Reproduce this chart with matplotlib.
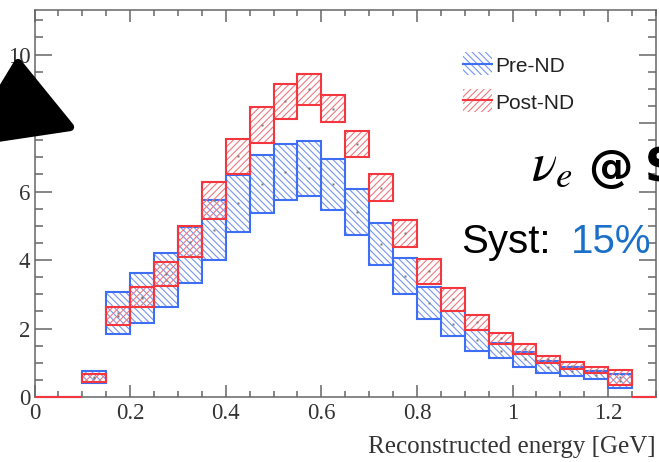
import matplotlib
matplotlib.use("Agg")
import matplotlib.pyplot as plt
import numpy as np
from matplotlib.patches import Polygon, Rectangle
from matplotlib.lines import Line2D
from matplotlib.ticker import MultipleLocator

# ---------------- data ----------------
bin_left = [0.00, 0.05, 0.10, 0.15, 0.20, 0.25, 0.30, 0.35, 0.40, 0.45, 0.50, 0.55, 0.60,
            0.65, 0.70, 0.75, 0.80, 0.85, 0.90, 0.95, 1.00, 1.05, 1.10, 1.15, 1.20, 1.25]
bin_width = 0.05

pre_lo = [0, 0, 0.42, 1.84, 2.15, 2.62, 3.32, 4.01, 4.83, 5.36, 5.74, 5.88, 5.46,
          4.74, 3.86, 3.01, 2.28, 1.78, 1.35, 1.13, 0.89, 0.71, 0.62, 0.53, 0.27, 0]
pre_hi = [0, 0, 0.77, 3.06, 3.62, 4.20, 4.95, 5.76, 6.49, 7.06, 7.40, 7.48, 6.95,
          6.07, 5.08, 4.05, 3.20, 2.51, 1.96, 1.57, 1.31, 1.06, 0.87, 0.76, 0.67, 0]
post_lo = [0, 0, 0.43, 2.10, 2.64, 3.25, 4.10, 5.20, 6.52, 7.42, 8.12, 8.54, 8.03,
           7.00, 5.71, 4.38, 3.30, 2.52, 1.96, 1.54, 1.26, 1.00, 0.81, 0.69, 0.35, 0]
post_hi = [0, 0, 0.66, 2.62, 3.21, 3.93, 4.98, 6.28, 7.54, 8.47, 9.15, 9.42, 8.81,
           7.78, 6.51, 5.18, 4.04, 3.18, 2.40, 1.88, 1.54, 1.20, 1.01, 0.89, 0.79, 0]

labels = ["Pre-ND", "Post-ND"]
xlabel = "Reconstructed energy [GeV]"
x_ticks = [0, 0.2, 0.4, 0.6, 0.8, 1.0, 1.2]
x_ticklabels = ["0", "0.2", "0.4", "0.6", "0.8", "1", "1.2"]
y_ticks = [0, 2, 4, 6, 8, 10]
y_ticklabels = ["0", "2", "4", "6", "8", "10"]

# ---------------- style ----------------
W, H = 659, 462
DPI = 100
plt.rcParams["hatch.linewidth"] = 0.8
plt.rcParams["mathtext.fontset"] = "stix"

blue_edge = "#3d6ef4"
blue_hatch = "#7796f2"
red_edge = "#f4363e"
red_hatch = "#f27a80"
axis_gray = "#666666"
label_gray = "#333333"

fig = plt.figure(figsize=(W / DPI, H / DPI), dpi=DPI)
ax = fig.add_axes([34.5 / W, 1 - 397 / H, (656 - 34.5) / W, (397 - 10) / H])


def px(x, y):
    return x / W, 1 - y / H


def draw_band(lo, hi, edge, hatchc, hatch, z):
    lo = np.asarray(lo, float)
    hi = np.asarray(hi, float)
    ax.bar(bin_left, hi - lo, bottom=lo, width=bin_width, align="edge",
           fill=False, hatch=hatch, edgecolor=hatchc, linewidth=0, zorder=z)
    ax.bar(bin_left, hi - lo, bottom=lo, width=bin_width, align="edge",
           fill=False, edgecolor=edge, linewidth=1.5, zorder=z + 0.5, clip_on=False)
    m = hi > 0
    centers = np.asarray(bin_left)[m] + bin_width / 2
    ax.plot(centers, ((lo + hi) / 2)[m], "s", ms=1.6, color="#777777",
            mec="none", zorder=z + 0.6)


draw_band(pre_lo, pre_hi, blue_edge, blue_hatch, "\\\\\\\\\\", 3)
draw_band(post_lo, post_hi, red_edge, red_hatch, "/////", 4)

ax.set_xlim(0, 1.3)
ax.set_ylim(0, 11.3)
ax.set_xticks(x_ticks)
ax.set_xticklabels(x_ticklabels)
ax.set_yticks(y_ticks)
ax.set_yticklabels(y_ticklabels)
ax.xaxis.set_minor_locator(MultipleLocator(0.05))
ax.yaxis.set_minor_locator(MultipleLocator(0.5))

for s in ax.spines.values():
    s.set_color(axis_gray)
    s.set_linewidth(1.1)

ax.tick_params(which="both", direction="in", top=True, right=True,
               color=axis_gray, width=1.1, labelcolor=label_gray)
ax.tick_params(axis="x", which="major", length=8.6, pad=4)
ax.tick_params(axis="x", which="minor", length=4.3)
ax.tick_params(axis="y", which="major", length=12, pad=3)
ax.tick_params(axis="y", which="minor", length=5.8)
for t in ax.get_xticklabels() + ax.get_yticklabels():
    t.set_fontfamily("Liberation Serif")
    t.set_fontsize(16.5)

ax.set_xlabel(xlabel, fontsize=18, family="Liberation Serif", color=label_gray,
              loc="right")
ax.xaxis.set_label_coords(1.0, -0.1)

# ---------------- legend (ROOT style) ----------------
leg_rows = [(labels[0], blue_edge, blue_hatch, "\\\\\\\\\\", 52),
            (labels[1], red_edge, red_hatch, "/////", 89)]
for lab, ec, hc, hat, ytop in leg_rows:
    x0, y0 = px(463, ytop + 23)
    fig.add_artist(Rectangle((x0, y0), 29 / W, 23 / H, transform=fig.transFigure,
                             fill=False, hatch=hat, edgecolor=hc, linewidth=0))
    xa, ya = px(463, ytop + 11.5)
    xb, _ = px(492, ytop + 11.5)
    fig.add_artist(Line2D([xa, xb], [ya, ya], transform=fig.transFigure,
                          color=ec, linewidth=1.5))
    tx, ty = px(495, ytop + 20)
    fig.text(tx, ty, lab, fontsize=15, family="Liberation Sans", color="#222222",
             va="baseline", ha="left")

# ---------------- annotations ----------------
nx, ny = px(531, 180)
fig.text(nx, ny, r"$\nu_e$", fontsize=38, color="black", va="baseline", ha="left")
ax_, ay_ = px(588, 181)
fig.text(ax_, ay_, "@", fontsize=32, family="DejaVu Sans", weight="bold",
         color="black", va="baseline", ha="left")
sx, sy = px(645, 181)
fig.text(sx, sy, "S", fontsize=33, family="DejaVu Sans", weight="bold",
         color="black", va="baseline", ha="left")

tx, ty = px(461, 253)
fig.text(tx, ty, "Syst:", fontsize=29, family="Liberation Sans",
         color="black", va="baseline", ha="left")
fig.text(px(571, 253)[0], ty, "15%", fontsize=29, family="Liberation Sans",
         color="#1a6fc8", va="baseline", ha="left")

# black blob artifact in upper-left
blob = [px(-30, 142), px(18, 63), px(70, 127)]
fig.add_artist(Polygon(blob, closed=True, transform=fig.transFigure,
                       facecolor="black", edgecolor="black", linewidth=6,
                       joinstyle="round", zorder=10))

fig.savefig("out.png", dpi=DPI)
